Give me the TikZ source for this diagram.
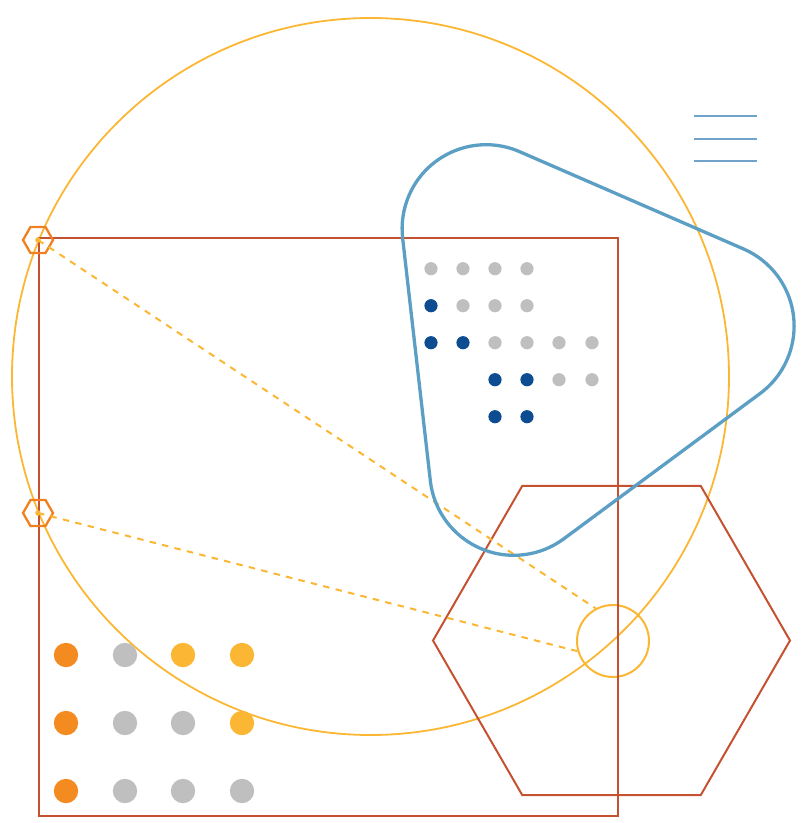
\documentclass[tikz,border=0pt]{standalone}
\usetikzlibrary{shapes.geometric,calc}
\definecolor{circY}{RGB}{251,183,52}
\definecolor{rectR}{RGB}{196,82,48}
\definecolor{blueS}{RGB}{92,159,196}
\definecolor{lineB}{RGB}{111,163,201}
\definecolor{dotG}{RGB}{191,191,191}
\definecolor{dotB}{RGB}{14,76,146}
\definecolor{dotO}{RGB}{244,139,33}
\definecolor{hexO}{RGB}{240,128,32}
\tikzset{
  ringY/.style={draw=circY, line width=1.8pt},
  frameR/.style={draw=rectR, line width=2pt},
  hexmark/.style={regular polygon, regular polygon sides=6, minimum size=30pt, inner sep=0pt, draw=hexO, line width=2.3pt},
  smallring/.style={circle, minimum size=72pt, inner sep=0pt, draw=circY, line width=2pt},
  dashY/.style={draw=circY, line width=2pt, dash pattern=on 6.5pt off 6.3pt},
  blob/.style={draw=blueS, line width=3.3pt},
  bar/.style={draw=lineB, line width=2pt},
}
\begin{document}
\begin{tikzpicture}[x=1pt,y=-1pt]
\useasboundingbox (0,0) rectangle (804,823);
% big circle
\draw[ringY] (370.5,376.5) circle[radius=358.5pt];
% small circle
\node[smallring] (sc) at (613,641) {};
% rectangle
\draw[frameR] (38.5,238) rectangle (618,816);
% big hexagon
\node[regular polygon, regular polygon sides=6, minimum size=357pt, inner sep=0pt, outer sep=0pt, frameR] (bighex) at (611.5,640.5) {};
% dashed lines
\node[hexmark] (h1) at (38,240) {};
\node[hexmark] (h2) at (38,513) {};
\draw[dashY] (h1.center) -- (sc.118);
\draw[dashY] (h2.center) -- (sc.196);
\fill[circY] (h1.center) circle[radius=2.8pt];
\fill[circY] (h2.center) circle[radius=2.8pt];
% blue rounded triangle
\coordinate (cA) at (486.1,228.7);
\coordinate (cC) at (513.8,471.3);
\coordinate (cB) at (710.1,326.0);
\draw[blob] ($(cA)+(66.5:84pt)$) arc[start angle=66.5, end angle=186.5, radius=84pt]
  -- ($(cC)+(186.5:84pt)$) arc[start angle=186.5, end angle=306.5, radius=84pt]
  -- ($(cB)+(306.5:84pt)$) arc[start angle=306.5, end angle=426.5, radius=84pt]
  -- cycle;
% dot grid top
\foreach \x/\y/\c in {
  431/268.7/dotG, 463/268.7/dotG, 495/268.7/dotG, 527/268.7/dotG,
  431/305.7/dotB, 463/305.7/dotG, 495/305.7/dotG, 527/305.7/dotG,
  431/342.7/dotB, 463/342.7/dotB, 495/342.7/dotG, 527/342.7/dotG, 559/342.7/dotG, 592/342.7/dotG,
  495/379.7/dotB, 527/379.7/dotB, 559/379.7/dotG, 592/379.7/dotG,
  495/416.7/dotB, 527/416.7/dotB}
  \fill[\c] (\x,\y) circle[radius=6.6pt];
% dot grid bottom
\foreach \x/\y/\c in {
  66/655/dotO, 125/655/dotG, 183/655/circY, 242/655/circY,
  66/723/dotO, 125/723/dotG, 183/723/dotG, 242/723/circY,
  66/791/dotO, 125/791/dotG, 183/791/dotG, 242/791/dotG}
  \fill[\c] (\x,\y) circle[radius=12.2pt];
% three bars
\draw[bar] (694,116) -- (757,116);
\draw[bar] (694,138.5) -- (757,138.5);
\draw[bar] (694,161) -- (757,161);
\end{tikzpicture}
\end{document}
